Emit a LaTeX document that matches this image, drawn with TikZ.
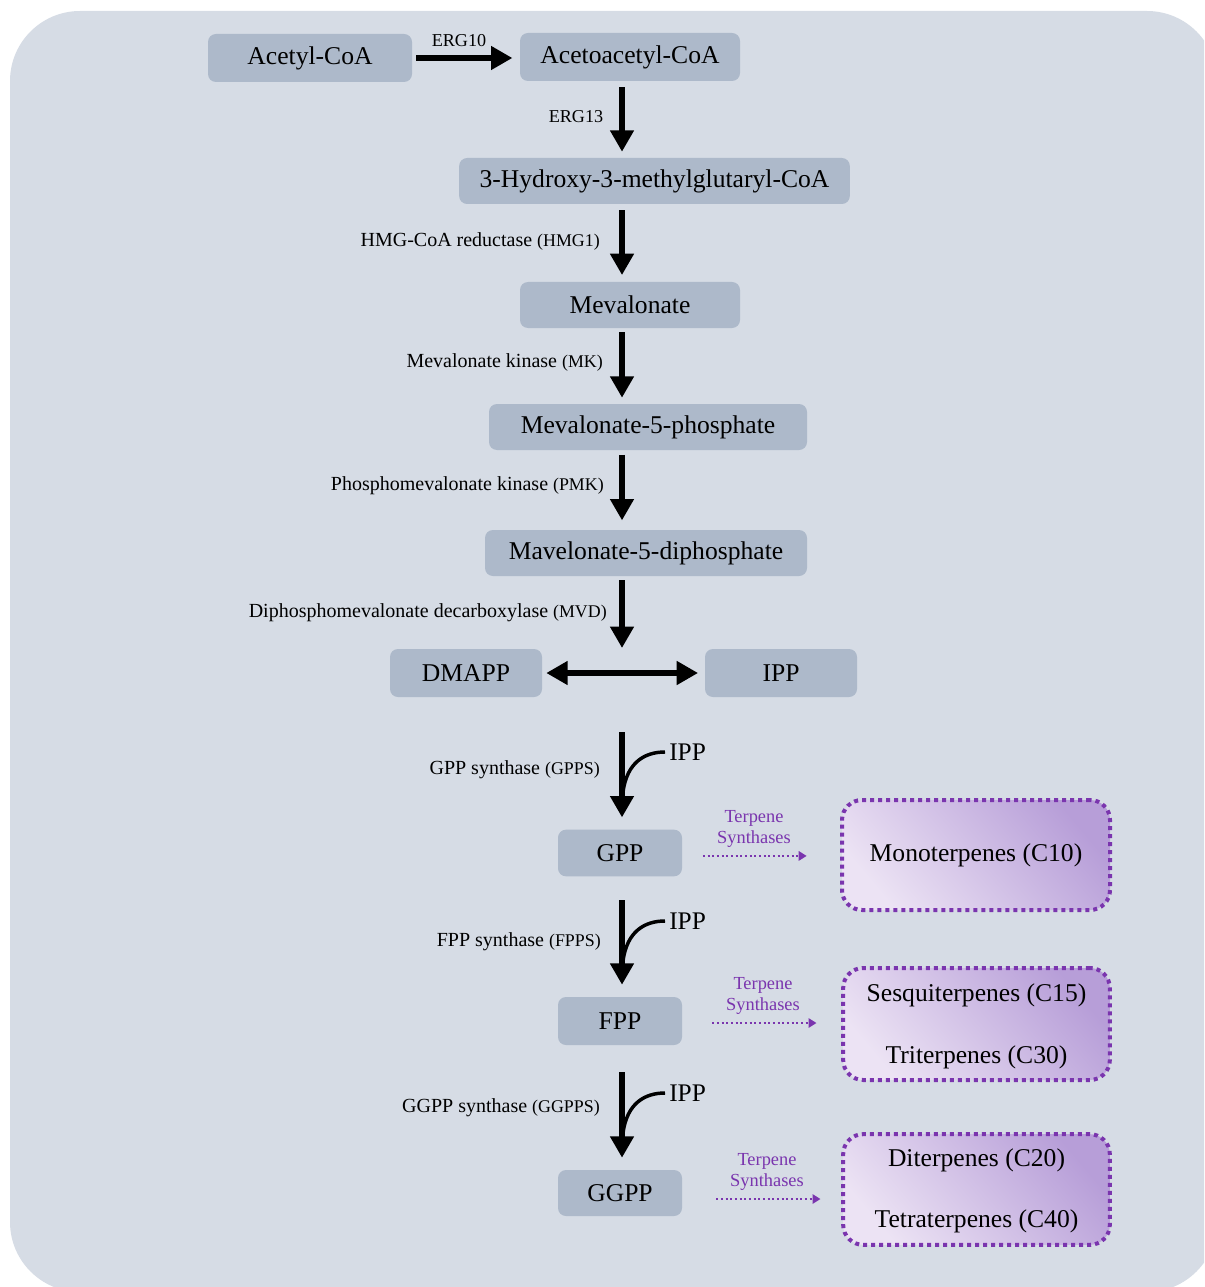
\documentclass[tikz,border=0pt]{standalone}
\usepackage{fontspec}
\setmainfont{Liberation Serif}
\usetikzlibrary{arrows.meta}

\definecolor{panel}{HTML}{D6DCE5}
\definecolor{boxfill}{HTML}{ADB9CA}
\definecolor{purp}{HTML}{7A35AE}
\definecolor{lavlight}{HTML}{ECE3F4}
\definecolor{lavdark}{HTML}{B79ED8}

% slightly smaller type for the gene names in brackets
\newcommand{\genetag}[1]{{\fontsize{13.4}{15}\selectfont #1}}

\tikzset{
  metab/.style={fill=boxfill, rounded corners=6pt, inner sep=0pt,
    font=\fontsize{19.2}{22}\selectfont},
  enz/.style={inner sep=0pt, font=\fontsize{15}{17}\selectfont},
  ergl/.style={inner sep=0pt, font=\fontsize{13.6}{15}\selectfont},
  ipplab/.style={inner sep=0pt, font=\fontsize{19}{22}\selectfont},
  tslab/.style={inner sep=0pt, align=center, text=purp,
    font=\fontsize{13.8}{15.5}\selectfont},
  prod/.style={draw=purp, line width=3pt, dash pattern=on 3pt off 3pt,
    rounded corners=15pt, inner sep=0pt,
    bottom color=lavlight, top color=lavdark, shading angle=-50},
  prodtext/.style={inner sep=0pt, font=\fontsize{19.2}{22}\selectfont},
  bigarrow/.style={line width=5.2pt, -{Triangle[width=17pt,length=16pt]}},
  dblarrow/.style={line width=5.2pt, {Triangle[width=17pt,length=16pt]}-{Triangle[width=17pt,length=16pt]}},
  joinline/.style={line width=2.6pt},
  tsarrow/.style={draw=purp, line width=1.5pt, dotted,
    -{Triangle[width=7pt,length=6pt,fill=purp]}},
}

\begin{document}
\begin{tikzpicture}[x=0.75pt,y=-0.75pt]
  \useasboundingbox (0,0) rectangle (1204,1287);
  \begin{scope}
    \clip (0,0) rectangle (1204,1287);
    \fill[panel, rounded corners=52.5pt] (10,11) rectangle (1217,1292);
  \end{scope}

  % x position of the main vertical pathway
  \coordinate (spine) at (622,0);

  % metabolites
  \node[metab, minimum width=153pt, minimum height=36pt] (acoa) at (310,58) {Acetyl-CoA};
  \node[metab, minimum width=165pt, minimum height=36pt] (acac) at (630,57) {Acetoacetyl-CoA};
  \node[metab, minimum width=293pt, minimum height=34.5pt] (hmg) at (654.5,181) {3-Hydroxy-3-methylglutaryl-CoA};
  \node[metab, minimum width=165pt, minimum height=34.5pt] (mva) at (630,305) {Mevalonate};
  \node[metab, minimum width=238.5pt, minimum height=34.5pt] (mvp) at (648,427) {Mevalonate-5-phosphate};
  \node[metab, minimum width=241.5pt, minimum height=34.5pt] (mvpp) at (646,553) {Mavelonate-5-diphosphate};
  \node[metab, minimum width=114pt, minimum height=36pt] (dmapp) at (466,673) {DMAPP};
  \node[metab, minimum width=114pt, minimum height=36pt] (ipp) at (781,673) {IPP};
  \node[metab, minimum width=93pt, minimum height=35pt] (gpp) at (620,853) {GPP};
  \node[metab, minimum width=93pt, minimum height=36pt] (fpp) at (620,1021) {FPP};
  \node[metab, minimum width=93pt, minimum height=34.5pt] (ggpp) at (620,1193) {GGPP};

  % terpene classes
  \node[prod, minimum width=201pt, minimum height=82.5pt] (mono) at (976,855) {};
  \node[prodtext] (monot) at (mono.center) {Monoterpenes (C10)};
  \node[prod, minimum width=200pt, minimum height=84pt] (sesq) at (976.5,1024) {};
  \node[prodtext] (sesqt) at (976.5,995) {Sesquiterpenes (C15)};
  \node[prodtext] (trit) at (976.5,1057) {Triterpenes (C30)};
  \node[prod, minimum width=200pt, minimum height=83pt] (dite) at (976.5,1189.5) {};
  \node[prodtext] (ditt) at (976.5,1160) {Diterpenes (C20)};
  \node[prodtext] (tett) at (976.5,1221) {Tetraterpenes (C40)};

  % enzyme labels
  \node[ergl] (erg10) at (459,41) {ERG10};
  \node[ergl] (erg13) at (576,117) {ERG13};
  \node[enz, anchor=east] (hmgr) at (600,241) {HMG-CoA reductase \genetag{(HMG1)}};
  \node[enz, anchor=east] (mk) at (603,362) {Mevalonate kinase \genetag{(MK)}};
  \node[enz, anchor=east] (pmk) at (604,486) {Phosphomevalonate kinase \genetag{(PMK)}};
  \node[enz, anchor=east] (mvd) at (607,613) {Diphosphomevalonate decarboxylase \genetag{(MVD)}};
  \node[enz, anchor=east] (gpps) at (600,770) {GPP synthase \genetag{(GPPS)}};
  \node[enz, anchor=east] (fpps) at (601,942) {FPP synthase \genetag{(FPPS)}};
  \node[enz, anchor=east] (ggpps) at (600,1108) {GGPP synthase \genetag{(GGPPS)}};

  % main pathway arrows
  \draw[bigarrow, shorten <=3pt, shorten >=5.5pt] (acoa.east) -- (acac.west |- acoa.east);
  \draw[bigarrow, shorten <=4.5pt, shorten >=4.5pt] (acac.south -| spine) -- (hmg.north -| spine);
  \draw[bigarrow, shorten <=4.5pt, shorten >=5pt] (hmg.south -| spine) -- (mva.north -| spine);
  \draw[bigarrow, shorten <=3pt, shorten >=4.5pt] (mva.south -| spine) -- (mvp.north -| spine);
  \draw[bigarrow, shorten <=3.5pt, shorten >=7pt] (mvp.south -| spine) -- (mvpp.north -| spine);
  \coordinate (mvdend) at (622,648);
  \draw[bigarrow, shorten <=3pt] (mvpp.south -| spine) -- (mvdend);
  \draw[dblarrow, shorten <=3pt, shorten >=5pt] (dmapp.east) -- (ipp.west);

  % prenyl transferase steps with IPP condensation
  \coordinate (gtop) at (622,732);
  \draw[bigarrow, shorten >=9pt] (gtop) -- (gpp.north -| spine);
  \node[ipplab, anchor=west] (ipp1) at (669,752) {IPP};
  \coordinate (j1) at (623,792);
  \draw[joinline] ([xshift=-3pt]ipp1.west) .. controls (645,752) and (627,762) .. (j1);

  \coordinate (ftop) at (622,900);
  \draw[bigarrow, shorten >=9pt] (ftop) -- (fpp.north -| spine);
  \node[ipplab, anchor=west] (ipp2) at (669,921) {IPP};
  \coordinate (j2) at (623,961);
  \draw[joinline] ([xshift=-3pt]ipp2.west) .. controls (645,921) and (627,931) .. (j2);

  \coordinate (ggtop) at (622,1072);
  \draw[bigarrow, shorten >=9pt] (ggtop) -- (ggpp.north -| spine);
  \node[ipplab, anchor=west] (ipp3) at (669,1093) {IPP};
  \coordinate (j3) at (623,1133);
  \draw[joinline] ([xshift=-3pt]ipp3.west) .. controls (645,1093) and (627,1103) .. (j3);

  % terpene synthase arrows
  \node[tslab] (ts1) at (754,829) {Terpene\\Synthases};
  \draw[tsarrow, shorten <=15.5pt, shorten >=25pt] ([yshift=-2.2pt]gpp.east) -- ([yshift=-2.2pt]gpp.east -| mono.west);
  \node[tslab] (ts2) at (763,996) {Terpene\\Synthases};
  \draw[tsarrow, shorten <=22.5pt, shorten >=18.5pt] ([yshift=-1.5pt]fpp.east) -- ([yshift=-1.5pt]fpp.east -| sesq.west);
  \node[tslab] (ts3) at (767,1172) {Terpene\\Synthases};
  \draw[tsarrow, shorten <=25.5pt, shorten >=15.5pt] ([yshift=-4.5pt]ggpp.east) -- ([yshift=-4.5pt]ggpp.east -| dite.west);
\end{tikzpicture}
\end{document}
